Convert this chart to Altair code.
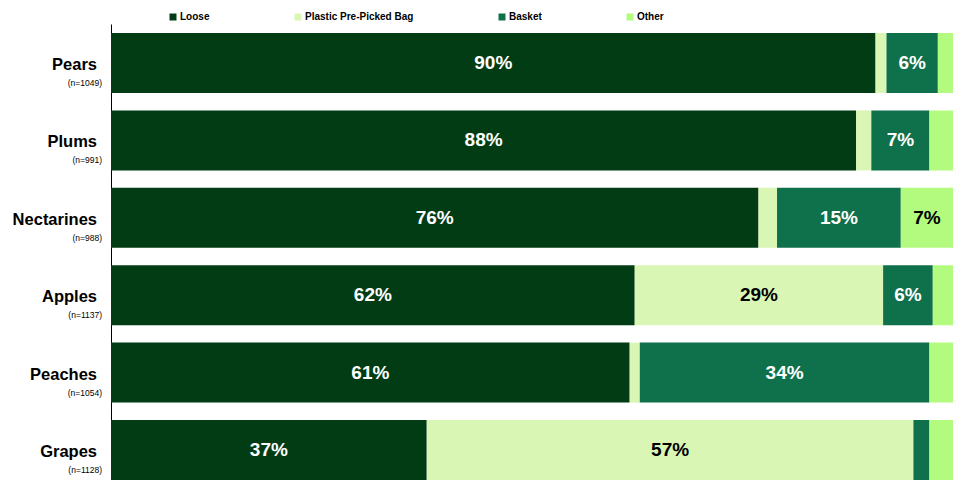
import altair as alt
import pandas as pd

categories = ["Pears", "Plums", "Nectarines", "Apples", "Peaches", "Grapes"]
sample_sizes = ["(n=1049)", "(n=991)", "(n=988)", "(n=1137)", "(n=1054)", "(n=1128)"]
series = ["Loose", "Plastic Pre-Picked Bag", "Basket", "Other"]
colors = ["#023C14", "#DAF6B4", "#0F714B", "#B2FB7F"]
text_colors = ["white", "black", "white", "black"]

loose = [90.8, 88.5, 76.9, 62.2, 61.6, 37.5]
plastic = [1.3, 1.8, 2.2, 29.5, 1.2, 57.8]
basket = [6.1, 6.9, 14.7, 5.9, 34.4, 1.9]
other = [1.8, 2.8, 6.2, 2.4, 2.8, 2.8]

loose_labels = ["90%", "88%", "76%", "62%", "61%", "37%"]
plastic_labels = ["", "", "", "29%", "", "57%"]
basket_labels = ["6%", "7%", "15%", "6%", "34%", ""]
other_labels = ["", "", "7%", "", "", ""]

values = [loose, plastic, basket, other]
labels = [loose_labels, plastic_labels, basket_labels, other_labels]

rows = []
for ci, cat in enumerate(categories):
    start = 0.0
    for si, s in enumerate(series):
        v = values[si][ci]
        rows.append({
            "category": cat,
            "n": sample_sizes[ci],
            "series": s,
            "order": si,
            "start": start,
            "end": start + v,
            "mid": start + v / 2,
            "label": labels[si][ci],
            "tcolor": text_colors[si],
        })
        start += v
df = pd.DataFrame(rows)
cats_df = pd.DataFrame({"category": categories, "n": sample_sizes})

FONT = "Liberation Sans"

yscale = alt.Scale(domain=categories, paddingInner=0.225, paddingOuter=0.116)
xscale = alt.Scale(domain=[0, 100], nice=False, zero=True)

bars = alt.Chart(df).mark_bar().encode(
    y=alt.Y("category:N", scale=yscale, sort=categories,
            axis=alt.Axis(labels=False, ticks=False, title=None, domainColor="black",
                          domainWidth=1, grid=False)),
    x=alt.X("start:Q", scale=xscale, axis=None),
    x2="end:Q",
    color=alt.Color("series:N", scale=alt.Scale(domain=series, range=colors),
                    legend=alt.Legend(orient="none", legendX=57, legendY=-12,
                                      direction="horizontal", title=None,
                                      symbolType="square", symbolSize=49,
                                      symbolStrokeWidth=0, columnPadding=83,
                                      labelFont=FONT, labelFontSize=10,
                                      labelFontWeight="bold", labelColor="black",
                                      labelOffset=2)),
)

pct = alt.Chart(df).transform_filter(alt.datum.label != "").mark_text(
    font=FONT, fontSize=19, fontWeight="bold", baseline="middle", align="center"
).encode(
    y=alt.Y("category:N", scale=yscale, sort=categories),
    x=alt.X("mid:Q", scale=xscale),
    text="label:N",
    color=alt.Color("tcolor:N", scale=None),
)

names = alt.Chart(cats_df).mark_text(
    font=FONT, fontSize=16.5, fontWeight="bold", align="right", baseline="middle",
    dy=2, color="black"
).encode(
    y=alt.Y("category:N", scale=yscale, sort=categories),
    x=alt.value(-14),
    text="category:N",
)

ns = alt.Chart(cats_df).mark_text(
    font=FONT, fontSize=8.5, align="right", baseline="middle", dy=20, color="black"
).encode(
    y=alt.Y("category:N", scale=yscale, sort=categories),
    x=alt.value(-9),
    text="n:N",
)

chart = alt.layer(bars, pct, names, ns).properties(
    width=842, height=465,
    autosize=alt.AutoSizeParams(type="none"),
    padding={"left": 103, "top": 16, "right": 0, "bottom": 0},
).configure_view(strokeWidth=0)

chart.save("out.html", embed_options={"renderer": "svg", "actions": False})
